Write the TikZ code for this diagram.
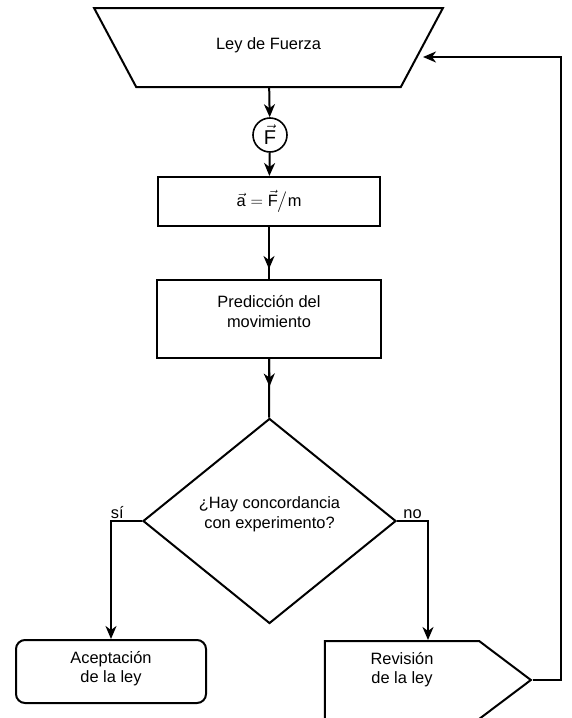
\documentclass[tikz,border=0pt]{standalone}
\usepackage{amsmath}
\usepackage{fontspec}
\setmainfont{Liberation Sans}
\usepackage{tikz}
\usetikzlibrary{arrows.meta,positioning,calc,shapes.geometric,shapes.symbols}
\newcommand{\vF}{\vec{\text{F}}}
\newcommand{\va}{\vec{\text{a}}}

\begin{document}
\begin{tikzpicture}[
    x=1pt, y=-1pt,
    every node/.style={font=\fontsize{16.4}{19.5}\selectfont},
    flow/.style={draw=black, line width=2pt},
    box/.style={flow, rectangle, inner sep=2pt, fill=white, align=center},
    lawbox/.style={flow, trapezium, shape border rotate=180,
                trapezium angle=50, trapezium stretches=true,
                minimum width=349pt, minimum height=79pt, inner sep=0pt,
                text depth=8pt},
    forcecirc/.style={flow, line width=1.6pt, circle, minimum size=34pt,
                inner sep=0pt, font=\fontsize{20}{22}\selectfont},
    decision/.style={flow, diamond, minimum width=253pt, minimum height=205pt,
                inner sep=0pt, align=center, text depth=16.5pt},
    endbox/.style={box, rounded corners=9pt},
    revbox/.style={flow, signal, signal to=east, signal pointer angle=74,
                minimum width=206pt, minimum height=78pt, align=center,
                text depth=24pt},
    line/.style={line width=2pt},
    arrow/.style={line, -{Stealth[length=13pt, width=11pt, inset=4pt]}},
    tag/.style={inner sep=1pt}
  ]
    \useasboundingbox (0,0) rectangle (571,718);

    % Spine
    \node[lawbox] (law) at (268.5, 47.5) {Ley de Fuerza};
    \node[forcecirc] (force) at (270, 135) {$\vF$};
    \node[box, minimum width=222pt, minimum height=49pt] (accel) at (269, 201.5)
      {$\va = \vF\big/\text{m}$};
    \node[box, minimum width=224pt, minimum height=78pt, text depth=15pt] (pred)
      at (269, 319) {Predicción del\\movimiento};
    \node[decision] (check) at (269.5, 521) {¿Hay concordancia\\con experimento?};

    % Outcomes
    \node[endbox, minimum width=190pt, minimum height=63pt, text depth=9.5pt]
      (accept) at (111, 671.5) {Aceptación\\de la ley};
    \node[revbox] (revise) at (402, 680) {Revisión\\de la ley};

    % Spine arrows
    \draw[arrow] (law) -- (force);
    \draw[arrow] (force) -- (accel);
    \draw[line]  (accel) -- (pred);
    \draw[arrow] (accel.south) -- ($(pred.north)+(0,-10)$);
    \draw[line]  (pred) -- (check);
    \draw[arrow] (pred.south) -- ($(check.north)+(0,-31)$);

    % Branches
    \draw[arrow] (check.west) -| node[tag, pos=0.4, above] {sí} (accept.north);
    \draw[arrow] (check.east) -| node[tag, pos=0.25, above] {no}
      ([xshift=26pt]revise.north);

    % Loop back to the law
    \coordinate (loopC) at (561, 57);
    \draw[arrow] (revise.east) -| (loopC) -- (law.east |- loopC);
  \end{tikzpicture}
\end{document}
